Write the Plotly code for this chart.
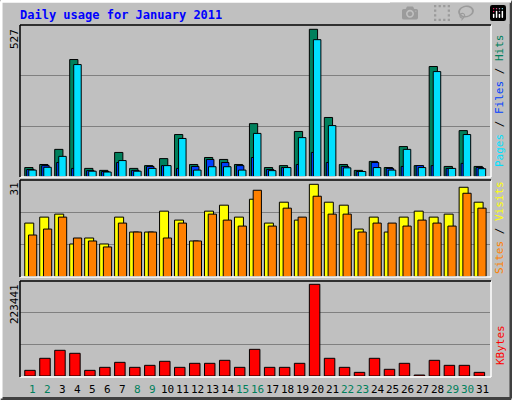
import plotly.graph_objects as go

days = list(range(1, 32))
hits = [33,44,98,419,30,23,87,30,40,65,151,44,69,62,44,190,33,40,162,527,212,44,23,55,33,108,40,394,37,165,37]
files = [26,40,51,30,22,19,51,23,37,40,30,37,62,51,40,69,26,33,44,87,51,37,19,51,30,37,40,40,30,48,33]
pages = [24,34,73,401,20,17,58,20,30,40,137,24,36,36,24,155,22,33,140,490,183,32,19,33,24,98,33,376,30,151,29]
visits = [18,20,21,11,13,11,20,15,15,22,19,12,22,24,20,26,18,25,19,31,25,24,16,20,15,20,22,20,21,30,25]
sites = [14,16,20,13,12,10,18,15,15,13,18,12,21,19,17,29,17,23,20,27,21,21,15,18,18,17,19,18,17,28,23]
kbytes = [13800,43100,62600,55300,13800,21100,33300,21100,26000,35800,21100,30900,30900,38200,21100,65000,21100,21100,30900,223441,43100,21100,8900,43100,16300,30900,2400,38200,26000,26000,8900]
weekend = {1,2,8,9,15,16,22,23,29,30}

fig = go.Figure()
def bars(vals, color, yaxis, offset, width):
    fig.add_trace(go.Bar(x=days, y=vals, marker=dict(color=color, line=dict(color="black", width=1)),
                         offset=offset, width=width, xaxis="x", yaxis=yaxis, showlegend=False))
bars(hits, "#00805c", "y", -0.55, 0.55)
bars(files, "#0040ff", "y", -0.42, 0.5)
bars(pages, "#00e0ff", "y", -0.28, 0.5)
bars(visits, "#ffff00", "y2", -0.55, 0.6)
bars(sites, "#ff8000", "y2", -0.3, 0.55)
bars(kbytes, "#ff0000", "y3", -0.55, 0.7)

def yax(dom, rng):
    return dict(domain=dom, range=[0, rng], tickvals=[rng/3, 2*rng/3], showticklabels=False,
                gridcolor="#808080", gridwidth=1, zeroline=False, showline=False, fixedrange=True)

fig.update_layout(
    width=512, height=400, margin=dict(l=0, r=0, t=0, b=0),
    paper_bgcolor="#c0c0c0", plot_bgcolor="#c0c0c0", barmode="overlay",
    font=dict(family="DejaVu Sans Mono", size=11, color="black"),
    xaxis=dict(domain=[20/512, 490/512], range=[0.133, 31.51], showticklabels=False,
               showgrid=False, zeroline=False, anchor="y3", fixedrange=True),
    yaxis=yax([0.558, 0.9375], 542.4),
    yaxis2=yax([0.308, 0.55], 32.44),
    yaxis3=yax([0.06, 0.2975], 231500),
)

shapes = []
def frame(x0, y0, x1, y1, tl, br, w=1):
    shapes.append(dict(type="line", xref="paper", yref="paper", x0=x0, y0=y0, x1=x1, y1=y0, line=dict(color=br, width=w)))
    shapes.append(dict(type="line", xref="paper", yref="paper", x0=x1, y0=y0, x1=x1, y1=y1, line=dict(color=br, width=w)))
    shapes.append(dict(type="line", xref="paper", yref="paper", x0=x0, y0=y1, x1=x1, y1=y1, line=dict(color=tl, width=w)))
    shapes.append(dict(type="line", xref="paper", yref="paper", x0=x0, y0=y0, x1=x0, y1=y1, line=dict(color=tl, width=w)))
def P(px, py):
    return px/512, 1 - py/400
for (t, b) in [(25, 177), (180, 277), (281, 377)]:
    x0, y0 = P(20, b); x1, y1 = P(491, t)
    frame(x0, y0, x1, y1, "black", "white", 1.5)
frame(0.002, 0.004, 0.998, 0.997, "white", "#404040", 3)
fig.update_layout(shapes=shapes)

ann = []
ann.append(dict(x=18/512, y=1-15/400, xref="paper", yref="paper", xanchor="left", yanchor="middle",
                text="<b>Daily usage for January 2011</b>", showarrow=False, font=dict(color="#0000ff", size=12)))
for d in days:
    ann.append(dict(x=d, y=1-389/400, xref="x", yref="paper", text=str(d), showarrow=False,
                    xanchor="center", yanchor="middle",
                    font=dict(color="#00805c" if d in weekend else "black", size=11)))
for txt, ytop in [("527", 27), ("31", 181), ("223441", 282)]:
    ann.append(dict(x=14/512, y=1-ytop/400, xref="paper", yref="paper", text=txt, textangle=-90,
                    showarrow=False, xanchor="center", yanchor="top", font=dict(size=11)))
right = [('<span style="color:#00e0ff">Pages</span> / <span style="color:#0040ff">Files</span> / <span style="color:#00805c">Hits</span>', 101),
         ('<span style="color:#ff8000">Sites</span> / <span style="color:#ffff00">Visits</span>', 228),
         ('<span style="color:#ff0000">KBytes</span>', 345)]
for txt, yc in right:
    ann.append(dict(x=500/512, y=1-yc/400, xref="paper", yref="paper", text=txt, textangle=-90,
                    showarrow=False, xanchor="center", yanchor="middle", font=dict(size=11)))
fig.update_layout(annotations=ann)
fig.write_html("out.html", post_script="document.body.style.margin='0';document.body.style.overflow='hidden';")
